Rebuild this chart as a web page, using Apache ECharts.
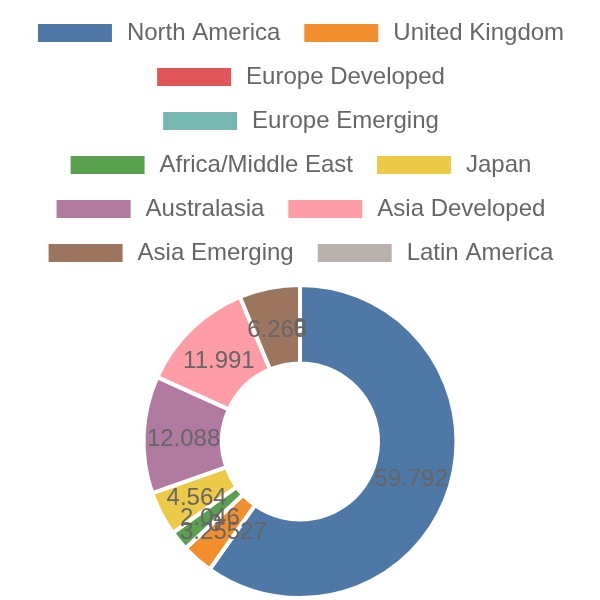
<!DOCTYPE html>
<html>
<head>
<meta charset="utf-8">
<script src="https://cdn.jsdelivr.net/npm/echarts@6/dist/echarts.min.js"></script>
<style>html,body{margin:0;padding:0;background:#fff}#c{width:600px;height:600px}</style>
</head>
<body>
<div id="c"></div>
<script>
const categories = ['North America','United Kingdom','Europe Developed','Europe Emerging','Africa/Middle East','Japan','Australasia','Asia Developed','Asia Emerging','Latin America'];
const values = [59.792, 3.25527, 0, 0, 2.046, 4.564, 12.088, 11.991, 6.265, 0];
const colors = ['#4e79a7','#f28e2b','#e15759','#76b7b2','#59a14f','#edc948','#b07aa1','#ff9da7','#9c755f','#bab0ac'];
const legendRows = [[0,1],[2],[3],[4,5],[6,7],[8,9]];

const font = 'Liberation Sans, Arial, sans-serif';
const pieData = categories.map((n, i) => ({name: n, value: values[i]}));
const chart = echarts.init(document.getElementById('c'), null, {renderer:'canvas'});
chart.setOption({
  animation: false,
  color: colors,
  legend: legendRows.map((row, r) => ({
    top: 16 + 44 * r,
    left: 'center',
    itemWidth: 76,
    itemHeight: 20,
    itemGap: 22,
    icon: 'rect',
    textStyle: {fontSize: 24, color: '#666', fontFamily: font, padding: [0,3,0,9]},
    data: row.map(i => categories[i])
  })),
  series: [{
    type: 'pie',
    center: [300, 441.5],
    radius: [78, 156.5],
    startAngle: 90,
    clockwise: true,
    itemStyle: {borderColor: '#fff', borderWidth: 4},
    label: {show: false},
    labelLine: {show: false},
    emphasis: {disabled: true},
    data: pieData
  }, {
    type: 'pie',
    center: [300, 441.5],
    radius: [71, 156],
    startAngle: 90,
    clockwise: true,
    silent: true,
    avoidLabelOverlap: false,
    minShowLabelAngle: -1,
    labelLayout: {hideOverlap: false},
    itemStyle: {color: 'rgba(0,0,0,0)', borderWidth: 0},
    label: {show: true, position: 'inside', formatter: '{c}', fontSize: 24, color: '#666', fontFamily: font, offset: [0, 3]},
    labelLine: {show: false},
    emphasis: {disabled: true},
    data: pieData
  }]
});
</script>
</body>
</html>
